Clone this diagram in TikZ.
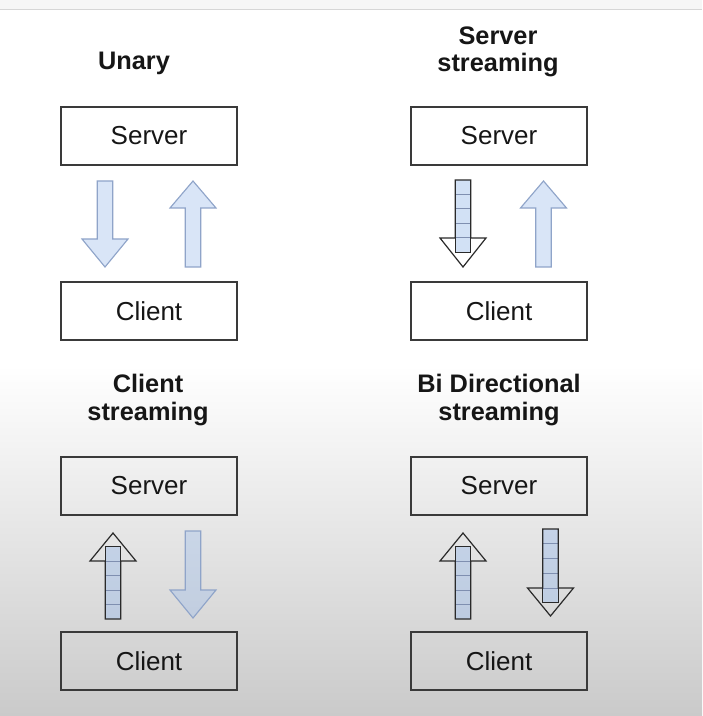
\documentclass[tikz,border=0pt]{standalone}
\usepackage{fontspec}
\setmainfont{Liberation Sans}
\usetikzlibrary{calc}
\definecolor{boxline}{HTML}{3A3A3A}
\definecolor{arrblue}{HTML}{9DBDEB}
\definecolor{arredge}{HTML}{8FA4C9}
\definecolor{celledge}{HTML}{7F8FB0}
\definecolor{streamline}{HTML}{2A2A2A}
\definecolor{bandgray}{HTML}{F6F6F6}
\definecolor{bandline}{HTML}{D6D6D6}
\definecolor{bottomgray}{HTML}{CACACA}
\definecolor{txt}{HTML}{161616}
\tikzset{
  endbox/.style={draw=boxline, line width=1.35pt, minimum width=132pt, minimum height=43.5pt, inner sep=0pt,
    font=\fontsize{19.5}{23}\selectfont, text=txt},
  title/.style={font=\fontsize{19}{20.5}\selectfont\bfseries, align=center, text=txt, inner sep=0pt},
  plainarr/.style={fill=arrblue, fill opacity=0.38, draw=arredge, draw opacity=1, line width=0.85pt, line join=miter},
  cellfill/.style={fill=arrblue, fill opacity=0.45},
  celldiv/.style={draw=celledge, line width=0.75pt},
  streamedge/.style={draw=streamline, line width=0.9pt, line join=miter}
}
\newcommand{\plainarrow}[4]{%
  \filldraw[plainarr] (#1-7.75,#2) -- (#1-7.75,#3) -- (#1-23,#3) -- (#1,#4) -- (#1+23,#3) -- (#1+7.75,#3) -- (#1+7.75,#2) -- cycle;}
\newcommand{\streamarrow}[4]{%
  \pgfmathsetmacro{\cs}{(#3-#2)/4}%
  \fill[cellfill] (#1-7.75,#2) rectangle (#1+7.75,{#2+5*\cs});
  \foreach \k in {1,...,4} { \draw[celldiv] (#1-7.75,{#2+\k*\cs}) -- (#1+7.75,{#2+\k*\cs}); }
  \draw[streamedge] (#1-7.75,#2) -- (#1-7.75,#3) -- (#1-23,#3) -- (#1,#4) -- (#1+23,#3) -- (#1+7.75,#3) -- (#1+7.75,#2) -- cycle;
  \draw[streamedge] (#1-7.75,#3) -- (#1-7.75,{#2+5*\cs}) -- (#1+7.75,{#2+5*\cs}) -- (#1+7.75,#3);}
\begin{document}
\begin{tikzpicture}[x=0.75pt, y=-0.75pt]
\useasboundingbox (0,0) rectangle (702,716);
% background
\fill[white] (0,0) rectangle (702,716);
\shade[top color=white, bottom color=bottomgray] (0,365) rectangle (702,716);
\fill[bandgray] (0,0) rectangle (702,9);
\draw[bandline, line width=0.9pt] (0,9.5) -- (702,9.5);

% titles
\node[title, anchor=base] (t1) at (134,69.5) {Unary};
\node[title, anchor=base] (t2) at (498,72) {Server\\streaming};
\node[title, anchor=base] (t3) at (148,420) {Client\\streaming};
\node[title, anchor=base] (t4) at (499,420) {Bi Directional\\streaming};

% boxes
\node[endbox] (s1) at (149,136) {Server};
\node[endbox] (c1) at (149,311) {Client};
\node[endbox] (s2) at (499,136) {Server};
\node[endbox] (c2) at (499,311) {Client};
\node[endbox] (s3) at (149,486) {Server};
\node[endbox] (c3) at (149,661) {Client};
\node[endbox] (s4) at (499,486) {Server};
\node[endbox] (c4) at (499,661) {Client};

% arrows
\plainarrow{105}{181}{239}{267}
\plainarrow{193}{267}{208}{181}
\streamarrow{463}{180}{238}{267}
\plainarrow{543.5}{267}{208}{181}
\streamarrow{113}{619}{561}{533}
\plainarrow{193}{531}{590}{618}
\streamarrow{463}{619}{561}{533}
\streamarrow{550.5}{529}{588}{616}
\end{tikzpicture}
\end{document}
